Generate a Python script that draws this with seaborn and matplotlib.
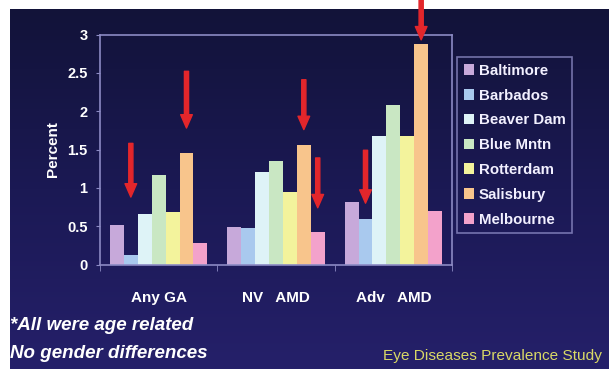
import numpy as np
import pandas as pd
import matplotlib
matplotlib.use("Agg")
import matplotlib.pyplot as plt
from matplotlib.colors import LinearSegmentedColormap
import seaborn as sns

# Prevalence (%) of each lesion type by study site
categories = ["Any GA", "NV   AMD", "Adv   AMD"]
sites = ["Baltimore", "Barbados", "Beaver Dam", "Blue Mntn",
         "Rotterdam", "Salisbury", "Melbourne"]
baltimore = [0.51, 0.49, 0.81]
barbados = [0.12, 0.48, 0.60]
beaver_dam = [0.66, 1.21, 1.67]
blue_mntn = [1.17, 1.35, 2.08]
rotterdam = [0.68, 0.95, 1.67]
salisbury = [1.46, 1.56, 2.87]
melbourne = [0.28, 0.43, 0.70]
y_ticks = [0, 0.5, 1, 1.5, 2, 2.5, 3]
y_tick_labels = ["0", "0.5", "1", "1.5", "2", "2.5", "3"]

site_colors = ["#c7a9da", "#a9c9ee", "#def3f7", "#c9e7c3",
               "#f3f39c", "#f8c58c", "#f3a2cb"]

# Red call-out arrows: (category index, site index, tail value, tip value)
callouts = [(0, 1, 1.58, 0.88), (0, 5, 2.52, 1.78), (1, 5, 2.41, 1.76),
            (1, 6, 1.39, 0.74), (2, 1, 1.49, 0.80), (2, 5, 3.45, 2.93)]

series = [baltimore, barbados, beaver_dam, blue_mntn, rotterdam, salisbury, melbourne]
df = pd.DataFrame({
    "category": np.repeat([categories], len(sites), axis=0).ravel(),
    "site": np.repeat(sites, len(categories)),
    "value": np.concatenate(series),
})

sns.set_style("dark")
plt.rcParams["font.family"] = ["Liberation Sans", "DejaVu Sans"]

W, H, DPI = 609, 369, 100
fig = plt.figure(figsize=(W / DPI, H / DPI), dpi=DPI, facecolor="white")

# slide background with a soft vertical gradient
bg = fig.add_axes([10 / W, 0, 1 - 10 / W, 1 - 9 / H])
cmap = LinearSegmentedColormap.from_list("slide", ["#25206a", "#1b1954", "#121339"])
grad = np.linspace(0, 1, 256).reshape(-1, 1)
bg.imshow(grad, aspect="auto", cmap=cmap, origin="lower", extent=[0, 1, 0, 1])
bg.set_axis_off()

frame = "#8c8ac4"
ax = fig.add_axes([100 / W, 1 - 264.5 / H, 352 / W, (264.5 - 34.5) / H])
ax.set_facecolor("none")
sns.barplot(data=df, x="category", y="value", hue="site", order=categories,
            hue_order=sites, palette=site_colors, width=0.83, saturation=1,
            linewidth=0, ax=ax, legend=True)

ax.set_xlim(-0.5, 2.5)
ax.set_ylim(0, 3)
ax.set_yticks(y_ticks)
ax.set_yticklabels(y_tick_labels)
ax.set_xticks(range(len(categories)))
ax.set_xticklabels(categories)
ax.set_xticks([-0.5, 0.5, 1.5, 2.5], minor=True)
ax.tick_params(axis="x", which="major", length=0, pad=19, labelsize=11,
               labelcolor="white")
ax.tick_params(axis="x", which="minor", length=4, color=frame, direction="out",
               bottom=True)
ax.tick_params(axis="y", length=3, color=frame, direction="out", left=True,
               labelsize=10.5, labelcolor="white", pad=6)
for lab in ax.get_xticklabels() + ax.get_yticklabels():
    lab.set_fontweight("bold")
ax.set_xlabel("")
ax.set_ylabel("Percent", color="white", fontsize=11, fontweight="bold", labelpad=5)
ax.grid(False)
for side in ["left", "right", "top", "bottom"]:
    ax.spines[side].set_visible(True)
    ax.spines[side].set_color(frame)
    ax.spines[side].set_linewidth(1.2)

# call-out arrows placed over the chosen bars
for ci, si, tail, tip in callouts:
    bar = ax.containers[si][ci]
    xc = bar.get_x() + bar.get_width() / 2
    ax.annotate("", xy=(xc, tip), xytext=(xc, tail), annotation_clip=False,
                arrowprops=dict(arrowstyle="simple,head_width=0.7,head_length=0.8,tail_width=0.25",
                                color="#e3262b", shrinkA=0, shrinkB=0,
                                mutation_scale=12, clip_on=False),
                zorder=10)

leg = ax.legend(loc="upper left", bbox_to_anchor=(457 / W, 1 - 57 / H),
                bbox_transform=fig.transFigure, frameon=True, fancybox=False,
                fontsize=10.8, labelspacing=0.72, handlelength=0.7,
                handleheight=0.7, handletextpad=0.3, borderpad=0.45,
                borderaxespad=0)
leg.get_frame().set_facecolor("none")
leg.get_frame().set_edgecolor(frame)
leg.get_frame().set_linewidth(1.2)
for t in leg.get_texts():
    t.set_color("#f2f0ff")
    t.set_fontweight("bold")

fig.text(10 / W, 1 - 326 / H, "*All were age related", color="white",
         fontsize=13.5, fontweight="bold", fontstyle="italic", va="center")
fig.text(10 / W, 1 - 354 / H, "No gender differences", color="white",
         fontsize=13.5, fontweight="bold", fontstyle="italic", va="center")
fig.text(383 / W, 1 - 356 / H, "Eye Diseases Prevalence Study", color="#d9d866",
         fontsize=11.1, va="center")

fig.savefig("out.png", dpi=DPI, facecolor="white")
